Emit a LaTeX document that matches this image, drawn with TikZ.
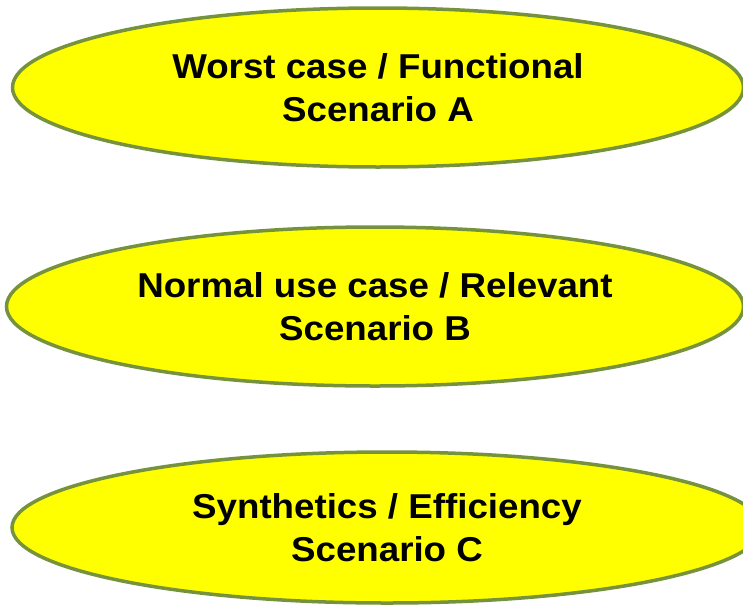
\documentclass[tikz,border=0pt]{standalone}
\usepackage{fontspec}
\setmainfont[FakeStretch=1.064]{Liberation Sans}
\usetikzlibrary{shapes.geometric}
\definecolor{olivedge}{RGB}{118,146,60}
\definecolor{ellfill}{RGB}{255,255,0}
\tikzset{
  scen/.style={ellipse, draw=olivedge, line width=3.5pt, fill=ellfill, inner sep=0pt,
    align=center, font=\fontsize{34.5}{43}\selectfont\bfseries, text=black}
}
\begin{document}
\begin{tikzpicture}[x=1pt,y=1pt]
\useasboundingbox (0,0) rectangle (743,-605);
\clip (0,0) rectangle (743,-605);
\fill[white] (0,0) rectangle (743,-605);
\node[scen, minimum width=731pt, minimum height=159pt] (a) at (378,-87.5)
  {Worst case / Functional\\Scenario A};
\node[scen, minimum width=737pt, minimum height=159pt] (b) at (375,-306.5)
  {Normal use case / Relevant\\Scenario B};
\node[scen, minimum width=750pt, minimum height=151pt] (c) at (387,-527.5)
  {Synthetics / Efficiency\\Scenario C};
\end{tikzpicture}
\end{document}
